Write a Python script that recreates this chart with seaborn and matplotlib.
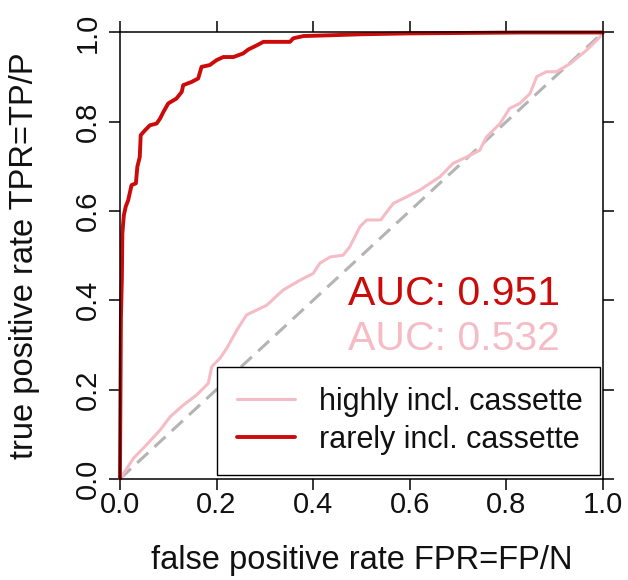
import matplotlib
matplotlib.use("Agg")
import matplotlib.pyplot as plt
import seaborn as sns
import pandas as pd

# ---- data ----
red_fpr = [0, 0.002, 0.004, 0.005, 0.008, 0.012, 0.017, 0.024, 0.033, 0.036, 0.041, 0.043,
           0.052, 0.062, 0.076, 0.083, 0.090, 0.100, 0.117, 0.128, 0.131, 0.148, 0.162, 0.169,
           0.186, 0.200, 0.214, 0.235, 0.255, 0.266, 0.283, 0.297, 0.352, 0.359, 0.380, 0.442,
           0.500, 0.600, 0.834, 1.0]
red_tpr = [0, 0.36, 0.45, 0.55, 0.59, 0.61, 0.624, 0.658, 0.662, 0.699, 0.721, 0.770,
           0.781, 0.792, 0.796, 0.807, 0.822, 0.841, 0.852, 0.867, 0.882, 0.889, 0.897, 0.923,
           0.927, 0.938, 0.945, 0.945, 0.953, 0.962, 0.971, 0.979, 0.979, 0.987, 0.992, 0.994,
           0.996, 0.998, 1.0, 1.0]

pink_fpr = [0, 0.028, 0.055, 0.083, 0.104, 0.131, 0.159, 0.183, 0.190, 0.207, 0.221, 0.242,
            0.262, 0.283, 0.304, 0.338, 0.373, 0.400, 0.414, 0.435, 0.462, 0.476, 0.497, 0.511,
            0.540, 0.566, 0.594, 0.621, 0.642, 0.663, 0.690, 0.718, 0.745, 0.759, 0.787, 0.807,
            0.828, 0.849, 0.863, 0.883, 0.904, 0.932, 0.966, 0.994, 1.0]
pink_tpr = [0, 0.046, 0.076, 0.109, 0.139, 0.165, 0.188, 0.214, 0.251, 0.270, 0.292, 0.333,
            0.367, 0.378, 0.389, 0.423, 0.445, 0.460, 0.483, 0.497, 0.501, 0.520, 0.565, 0.580,
            0.580, 0.617, 0.632, 0.647, 0.662, 0.677, 0.707, 0.721, 0.736, 0.766, 0.796, 0.830,
            0.841, 0.863, 0.901, 0.912, 0.912, 0.930, 0.960, 0.990, 1.0]

diag = [0.0, 1.0]
series_labels = ["highly incl. cassette", "rarely incl. cassette"]
auc_labels = ["AUC: 0.951", "AUC: 0.532"]
ticks = [0.0, 0.2, 0.4, 0.6, 0.8, 1.0]
tick_labels = ["0.0", "0.2", "0.4", "0.6", "0.8", "1.0"]
xlabel = "false positive rate FPR=FP/N"
ylabel = "true positive rate TPR=TP/P"

RED = "#cd0a0a"
PINK = "#f5bcc6"
INK = "#111111"

sns.set_theme(style="white")
plt.rcParams["font.family"] = ["Liberation Sans", "DejaVu Sans"]

fig = plt.figure(figsize=(6.28, 5.8), dpi=100)
ax = fig.add_axes([0.191, 0.1745, 0.769, 0.7695])

df_pink = pd.DataFrame({"fpr": pink_fpr, "tpr": pink_tpr})
df_red = pd.DataFrame({"fpr": red_fpr, "tpr": red_tpr})
df_diag = pd.DataFrame({"fpr": diag, "tpr": diag})

sns.lineplot(data=df_diag, x="fpr", y="tpr", ax=ax, color="#b4b4b4", lw=2.2,
             dashes=False, estimator=None, sort=False)
ax.lines[-1].set_dashes((4.9, 2.8))
sns.lineplot(data=df_pink, x="fpr", y="tpr", ax=ax, color=PINK, lw=2.2,
             estimator=None, sort=False, label=series_labels[0])
sns.lineplot(data=df_red, x="fpr", y="tpr", ax=ax, color=RED, lw=2.8,
             estimator=None, sort=False, label=series_labels[1])
for ln in ax.lines:
    ln.set_clip_on(False)

ax.set_xlim(0, 1)
ax.set_ylim(0, 1)
ax.set_xticks(ticks)
ax.set_xticklabels(tick_labels, fontsize=21, color=INK)
ax.set_yticks(ticks)
ax.set_yticklabels(tick_labels, fontsize=21, rotation=90, va="center", color=INK)
ax.tick_params(axis="both", which="both", direction="out", length=8, width=1.1,
               color="black", top=True, right=True, bottom=True, left=True,
               labeltop=False, labelright=False)
ax.tick_params(axis="x", pad=1)
ax.tick_params(axis="y", pad=5)
for s in ax.spines.values():
    s.set_visible(True)
    s.set_color("black")
    s.set_linewidth(1.1)

ax.set_xlabel(xlabel, fontsize=23.5, color=INK)
ax.set_ylabel(ylabel, fontsize=23.5, color=INK)
ax.xaxis.set_label_coords(0.5, -0.148)
ax.yaxis.set_label_coords(-0.165, 0.5)

ax.text(0.472, 0.389, auc_labels[0], color=RED, fontsize=29.5, transform=ax.transAxes,
        ha="left", va="baseline")
ax.text(0.472, 0.2885, auc_labels[1], color=PINK, fontsize=29.5, transform=ax.transAxes,
        ha="left", va="baseline")

leg = ax.legend(loc="lower left", bbox_to_anchor=(0.2, 0.0085, 0.794, 0.243),
                mode="expand", borderaxespad=0, fontsize=22, frameon=True,
                fancybox=False, handlelength=1.9, handletextpad=0.8,
                labelspacing=0.25, borderpad=0.66)
leg.get_frame().set_edgecolor("black")
leg.get_frame().set_linewidth(1.0)
leg.get_frame().set_alpha(1)
for t in leg.get_texts():
    t.set_color(INK)

fig.savefig("out.png", dpi=100)
